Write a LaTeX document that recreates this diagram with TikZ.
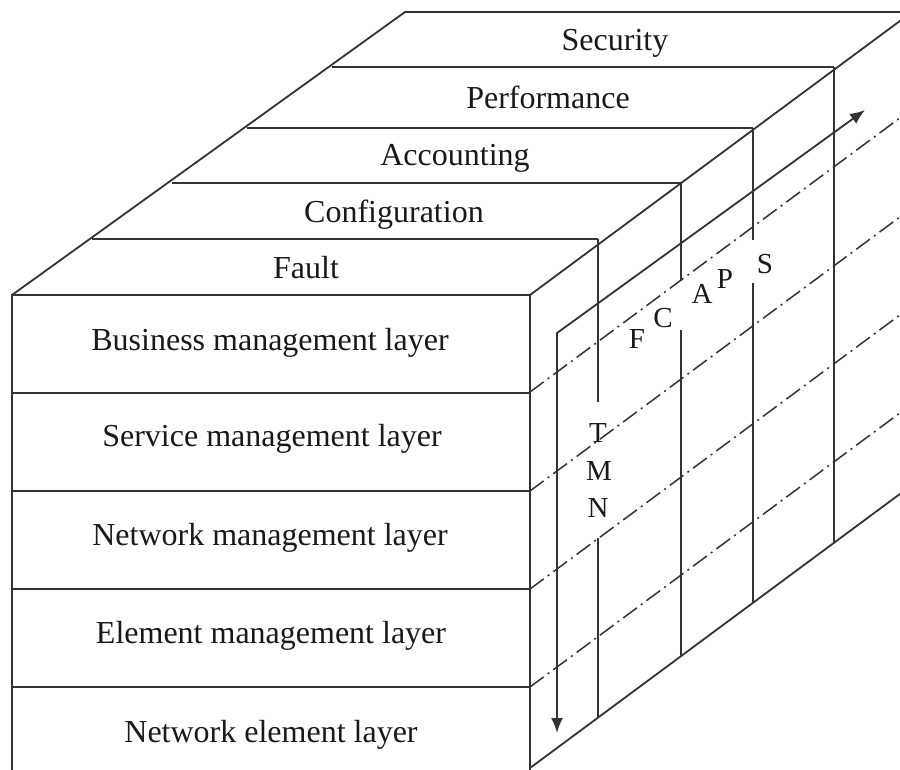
\documentclass[tikz,border=0pt]{standalone}
\usepackage{fontspec}
\setmainfont{Liberation Serif}
\usetikzlibrary{arrows.meta}
\begin{document}
\begin{tikzpicture}[x=1pt,y=-1pt,
  edge/.style={line width=1.8pt, draw=black!80},
  dashdot/.style={line width=1.5pt, draw=black!80, dash pattern=on 17pt off 5pt on 2pt off 5pt},
  lab/.style={font=\fontsize{32}{36}\selectfont, anchor=base, inner sep=0pt, text=black!90},
  letter/.style={font=\fontsize{29}{32}\selectfont, anchor=base, inner sep=0pt, text=black!90}]
\useasboundingbox (0,0) rectangle (900,769);
\clip (0,0) rectangle (900,769);
\fill[white] (0,0) rectangle (900,769);
% corners of the slabs
\coordinate (L0) at (12,295);  \coordinate (R0) at (530,295);
\coordinate (L1) at (92,239);  \coordinate (R1) at (598,239);
\coordinate (L2) at (172,183); \coordinate (R2) at (681,183);
\coordinate (L3) at (247,128); \coordinate (R3) at (753,128);
\coordinate (L4) at (332,67);  \coordinate (R4) at (834,67);
\coordinate (L5) at (405,12);  \coordinate (R5) at (912,12);
\coordinate (FBL) at (12,772); \coordinate (FBR) at (530,772);
\coordinate (BR) at (530,768); \coordinate (BB) at (912,485);
% top face
\draw[edge] (L0) -- (L5) -- (R5);
\foreach \k in {0,...,4} { \draw[edge] (L\k) -- (R\k); }
\draw[edge] (R0) -- (R5);
% front face
\draw[edge] (FBL) -- (L0) -- (R0) -- (FBR);
\foreach \y in {393,491,589,687} { \draw[edge] (12,\y) -- (530,\y); }
% right face bottom edge
\draw[edge] (BR) -- (BB);
% right face verticals (with gaps for letters)
\draw[edge] (R1) -- (598,402);
\draw[edge] (598,538) -- (598,717.6);
\draw[edge] (R2) -- (681,281);
\draw[edge] (681,330) -- (681,656.1);
\draw[edge] (R3) -- (753,240);
\draw[edge] (753,283) -- (753,602.8);
\draw[edge] (R4) -- (834,542.8);
% dash-dot lines
\foreach \y [evaluate=\y as \ye using \y-283] in {392,491,589,687} {
  \draw[dashdot] (530,\y) -- (912,\ye);
}
% double arrow
\coordinate (A1) at (557,733);
\coordinate (A2) at (557,333);
\coordinate (A3) at (865,110);
\draw[edge, {Latex[length=15pt,width=12pt]}-{Latex[length=15pt,width=12pt]}] (A1) -- (A2) -- (A3);
% top labels
\node[lab] (fault) at (306,278) {Fault};
\node[lab] (conf) at (394,222) {Configuration};
\node[lab] (acc) at (455,165) {Accounting};
\node[lab] (perf) at (548,108) {Performance};
\node[lab] (sec) at (615,50) {Security};
% front labels
\node[lab] (bml) at (270,350) {Business management layer};
\node[lab] (sml) at (272,446) {Service management layer};
\node[lab] (nml) at (270,545) {Network management layer};
\node[lab] (eml) at (271,643) {Element management layer};
\node[lab] (nel) at (271,742) {Network element layer};
% FCAPS letters
\node[letter] (lF) at (637,348) {F};
\node[letter] (lC) at (663,327) {C};
\node[letter] (lA) at (702,303) {A};
\node[letter] (lP) at (725,288) {P};
\node[letter] (lS) at (765,273) {S};
% TMN letters
\node[letter] (lT) at (598,442) {T};
\node[letter] (lM) at (599,480) {M};
\node[letter] (lN) at (598,517) {N};
\end{tikzpicture}
\end{document}
